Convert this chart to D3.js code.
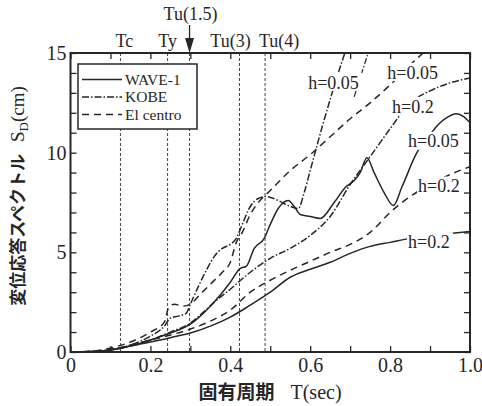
<!DOCTYPE html>
<html>
<head>
<meta charset="utf-8">
<script src="https://cdn.jsdelivr.net/npm/d3@7"></script>
<style>
  html, body { margin: 0; padding: 0; background: #fff; }
  svg { display: block; }
</style>
</head>
<body>
<div id="chart"></div>
<script>
// displacement response spectra, T(sec) vs SD(cm)
const wave05 = [[0,0],[0.05,0.02],[0.1,0.1],[0.15,0.3],[0.2,0.6],[0.25,0.95],[0.3,1.4],[0.35,2.3],[0.4,3.5],[0.425,4.2],[0.44,4.3],[0.46,5.2],[0.485,5.7],[0.5,6.4],[0.52,7.2],[0.545,7.6],[0.56,7.3],[0.575,6.9],[0.6,6.8],[0.625,6.7],[0.66,7.5],[0.69,8.3],[0.71,8.6],[0.725,9.0],[0.742,9.75],[0.76,9.0],[0.785,8.0],[0.808,7.35],[0.83,8.3],[0.867,10.0],[0.9,10.9],[0.92,11.4],[0.945,11.8],[0.965,11.95],[0.985,11.8],[1.0,11.5]];
const wave20 = [[0,0],[0.05,0.02],[0.1,0.1],[0.15,0.3],[0.2,0.5],[0.25,0.72],[0.3,0.95],[0.35,1.3],[0.4,1.75],[0.45,2.35],[0.5,3.0],[0.55,3.75],[0.6,4.15],[0.65,4.5],[0.7,4.95],[0.75,5.3],[0.8,5.5],[0.85,5.7],[0.9,5.85],[0.95,5.95],[1.0,6.05]];
const kobe05 = [[0,0],[0.05,0.02],[0.1,0.12],[0.15,0.35],[0.2,0.8],[0.235,1.3],[0.25,1.7],[0.27,1.8],[0.29,1.95],[0.3,2.4],[0.325,3.5],[0.34,4.1],[0.36,4.8],[0.38,5.2],[0.4,5.4],[0.415,5.7],[0.43,6.4],[0.45,7.3],[0.47,7.7],[0.49,7.8],[0.52,7.6],[0.55,7.3],[0.57,7.2],[0.585,8.0],[0.6,9.1],[0.63,11.3],[0.655,13.0],[0.68,14.6],[0.7,15.8]];
const kobe20 = [[0,0],[0.05,0.02],[0.1,0.1],[0.15,0.3],[0.2,0.6],[0.25,1.0],[0.3,1.45],[0.33,1.95],[0.36,2.5],[0.4,3.15],[0.45,4.0],[0.5,4.7],[0.55,5.2],[0.6,5.85],[0.65,6.8],[0.7,8.4],[0.75,9.8],[0.8,11.2],[0.85,12.5],[0.9,13.1],[0.95,13.5],[1.0,13.75]];
const elc05 = [[0,0],[0.05,0.03],[0.1,0.2],[0.15,0.5],[0.2,1.0],[0.235,1.5],[0.245,2.2],[0.26,2.4],[0.28,2.3],[0.3,2.4],[0.32,2.8],[0.35,3.4],[0.38,4.0],[0.4,4.5],[0.415,5.5],[0.43,6.0],[0.45,6.9],[0.47,7.5],[0.5,8.1],[0.55,9.1],[0.6,9.9],[0.65,10.8],[0.7,11.7],[0.75,12.5],[0.8,13.4],[0.85,14.4],[0.9,15.3]];
const elc20 = [[0,0],[0.05,0.02],[0.1,0.12],[0.15,0.35],[0.2,0.6],[0.25,0.85],[0.3,1.15],[0.35,1.55],[0.4,2.1],[0.45,3.0],[0.5,3.6],[0.55,4.1],[0.6,4.55],[0.65,5.0],[0.7,5.4],[0.75,6.0],[0.8,7.0],[0.85,7.8],[0.9,8.4],[0.95,8.9],[1.0,9.3]];

const records = ["WAVE-1", "KOBE", "El centro"];
const periodMarks = [["Tc", 0.125], ["Ty", 0.243], ["Tu(3)", 0.423], ["Tu(4)", 0.487]];
const tu15 = ["Tu(1.5)", 0.298];
const xTickLabels = ["0", "0.2", "0.4", "0.6", "0.8", "1.0"];
const yTickLabels = ["0", "5", "10", "15"];
// curve labels: [text, T, SD], left-anchored
const hLabels = [["h=0.05", 0.595, 13.5], ["h=0.05", 0.793, 14.0], ["h=0.2", 0.805, 12.3], ["h=0.05", 0.845, 10.55], ["h=0.2", 0.87, 8.3], ["h=0.2", 0.845, 5.5]];

const W = 482, H = 406;
const x = d3.scaleLinear().domain([0, 1]).range([70.5, 470]);
const y = d3.scaleLinear().domain([0, 15]).range([352, 53]);
const ink = "#262626";
const SERIF = "'Liberation Serif', 'Times New Roman', Times, 'DejaVu Serif', serif";
const GOTHIC = "'Noto Sans CJK JP', 'Noto Sans', sans-serif";
const dashOf = { "WAVE-1": null, "KOBE": "7,2,1.5,2", "El centro": "7,5" };

const svg = d3.select("#chart").append("svg").attr("width", W).attr("height", H);
svg.append("rect").attr("width", W).attr("height", H).attr("fill", "#fff");

svg.append("clipPath").attr("id", "plot").append("rect")
    .attr("x", x(0)).attr("y", y(15)).attr("width", x(1) - x(0)).attr("height", y(0) - y(15));

// vertical period lines
const allMarks = [...periodMarks, tu15];
svg.append("g").selectAll("line").data(allMarks).enter().append("line")
    .attr("x1", d => x(d[1])).attr("x2", d => x(d[1]))
    .attr("y1", y(15)).attr("y2", y(0))
    .attr("stroke", "#444").attr("stroke-width", 1).attr("stroke-dasharray", "3,2");

// curves
const series = [
    { rec: "WAVE-1", data: wave05 }, { rec: "WAVE-1", data: wave20 },
    { rec: "KOBE", data: kobe05 }, { rec: "KOBE", data: kobe20 },
    { rec: "El centro", data: elc05 }, { rec: "El centro", data: elc20 }
];
const line = d3.line().x(d => x(d[0])).y(d => y(d[1])).curve(d3.curveMonotoneX);
svg.append("g").attr("clip-path", "url(#plot)").selectAll("path").data(series).enter().append("path")
    .attr("d", d => line(d.data))
    .attr("fill", "none").attr("stroke", ink).attr("stroke-width", 1.5)
    .attr("stroke-dasharray", d => dashOf[d.rec]);

// small leader above the KOBE h=0.05 label
svg.append("path")
    .attr("d", d3.line().x(d => x(d[0])).y(d => y(d[1]))([[0.71, 12.8], [0.745, 15]]))
    .attr("fill", "none").attr("stroke", ink).attr("stroke-width", 1.2).attr("stroke-dasharray", "6,2,1.5,2");

// damping labels with white backing
const hl = svg.append("g").selectAll("g").data(hLabels).enter().append("g")
    .attr("transform", d => `translate(${x(d[1])},${y(d[2])})`);
hl.append("rect").attr("x", -1).attr("y", -10).attr("height", 18).attr("fill", "#fff")
    .attr("width", d => d[0].length * 9 + 1);
hl.append("text").style("font-family", SERIF).attr("font-size", 18).attr("fill", ink)
    .attr("dy", "0.32em").text(d => d[0]);

// axes, ticks pointing inward
const xt = d3.range(0, 11).map(i => i / 10);
const yt = d3.range(0, 16);
const fmtX = d => { const i = Math.round(d * 10); return i % 2 === 0 ? xTickLabels[i / 2] : ""; };
const fmtY = d => d % 5 === 0 ? yTickLabels[d / 5] : "";

function styleAxis(g) {
    g.select(".domain").remove();
    g.selectAll(".tick line").attr("stroke", ink).attr("stroke-width", 1.3);
    g.selectAll(".tick text").style("font-family", SERIF).attr("font-size", 20).attr("fill", ink);
}
svg.append("g").attr("transform", `translate(0,${y(0)})`)
    .call(d3.axisBottom(x).tickValues(xt).tickFormat(fmtX).tickSize(-6).tickPadding(6)).call(styleAxis);
svg.append("g").attr("transform", `translate(0,${y(15)})`)
    .call(d3.axisTop(x).tickValues(xt).tickFormat("").tickSize(-6)).call(styleAxis);
svg.append("g").attr("transform", `translate(${x(0)},0)`)
    .call(d3.axisLeft(y).tickValues(yt).tickFormat(fmtY).tickSize(-6).tickPadding(4)).call(styleAxis);
svg.append("g").attr("transform", `translate(${x(1)},0)`)
    .call(d3.axisRight(y).tickValues(yt).tickFormat("").tickSize(-6)).call(styleAxis);

// frame
svg.append("rect").attr("x", x(0)).attr("y", y(15)).attr("width", x(1) - x(0)).attr("height", y(0) - y(15))
    .attr("fill", "none").attr("stroke", ink).attr("stroke-width", 2);

// period labels above the frame
const markDx = { "Tc": 4, "Ty": 0, "Tu(3)": -9, "Tu(4)": 14 };
svg.append("g").selectAll("text").data(periodMarks).enter().append("text")
    .style("font-family", SERIF).attr("font-size", 18).attr("fill", ink).attr("text-anchor", "middle")
    .attr("x", d => x(d[1]) + markDx[d[0]]).attr("y", 47).text(d => d[0]);
svg.append("text").style("font-family", SERIF).attr("font-size", 18).attr("fill", ink).attr("text-anchor", "middle")
    .attr("x", x(tu15[1]) + 1).attr("y", 20).text(tu15[0]);
svg.append("line").attr("x1", x(tu15[1])).attr("x2", x(tu15[1])).attr("y1", 25).attr("y2", 40)
    .attr("stroke", ink).attr("stroke-width", 1.3);
svg.append("path")
    .attr("d", `M${x(tu15[1]) - 4.5},38L${x(tu15[1]) + 4.5},38L${x(tu15[1])},${y(15)}Z`)
    .attr("fill", ink);

// legend
const lg = svg.append("g");
lg.append("rect").attr("x", 78).attr("y", 64).attr("width", 119).attr("height", 65)
    .attr("fill", "#fff").attr("stroke", ink).attr("stroke-width", 1.5);
const li = lg.selectAll("g.item").data(records).enter().append("g")
    .attr("transform", (d, i) => `translate(82,${79.5 + i * 17.5})`);
li.append("line").attr("x1", 0).attr("x2", 40).attr("stroke", ink).attr("stroke-width", 1.5)
    .attr("stroke-dasharray", d => dashOf[d]);
li.append("text").style("font-family", SERIF).attr("font-size", 15.5).attr("fill", ink)
    .attr("x", 43).attr("dy", "0.35em").text(d => d);

// axis titles
const yt1 = svg.append("text").attr("transform", "translate(24,196) rotate(-90)")
    .attr("text-anchor", "middle").attr("fill", ink);
yt1.append("tspan").style("font-family", GOTHIC).attr("font-weight", 700).attr("font-size", 17).text("変位応答スペクトル");
yt1.append("tspan").style("font-family", SERIF).attr("font-size", 19).attr("dx", 12).text("S");
yt1.append("tspan").style("font-family", SERIF).attr("font-size", 13).attr("dy", 4).text("D");
yt1.append("tspan").style("font-family", SERIF).attr("font-size", 19).attr("dy", -4).text("(cm)");

const xt1 = svg.append("text").attr("x", 270).attr("y", 399).attr("text-anchor", "middle").attr("fill", ink);
xt1.append("tspan").style("font-family", GOTHIC).attr("font-weight", 700).attr("font-size", 19).text("固有周期");
xt1.append("tspan").style("font-family", SERIF).attr("font-size", 20).attr("dx", 16).text("T(sec)");
</script>
</body>
</html>
